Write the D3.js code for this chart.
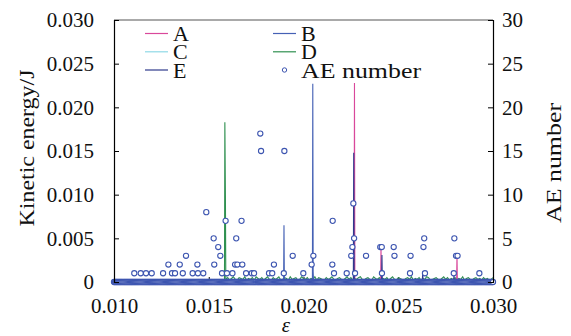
<!DOCTYPE html>
<html>
<head>
<meta charset="utf-8">
<script src="https://cdn.jsdelivr.net/npm/d3@7"></script>
</head>
<body style="margin:0">
<svg id="chart" width="571" height="336"></svg>
<script>
// kinetic energy series (eps, J)
const seriesA = [[0.0100, 0], [0.02267, 0], [0.02269, 0.0228], [0.02271, 0], [0.02407, 0], [0.02409, 0.0041], [0.02411, 0],
  [0.02808, 0], [0.02810, 0.0032], [0.02812, 0], [0.0300, 0]];
const seriesB = [[0.0100, 0], [0.01895, 0], [0.01897, 0.0065], [0.01899, 0], [0.02047, 0], [0.02049, 0.0227], [0.02051, 0.0012],
  [0.02053, 0], [0.0300, 0]];
const seriesC = [[0.0100, 0], [0.0300, 0]];
const seriesE = [[0.0100, 0], [0.02263, 0], [0.02265, 0.0148], [0.02267, 0.0010], [0.02269, 0], [0.02412, 0], [0.02414, 0.0031],
  [0.02416, 0], [0.02627, 0], [0.02629, 0.0012], [0.02631, 0], [0.02792, 0], [0.02794, 0.0007], [0.02796, 0], [0.0300, 0]];
const seriesDSpike = [[0.0100, 0], [0.01583, 0], [0.01585, 0.0183], [0.01588, 0.0096], [0.01590, 0.0004]];
// D background noise from 0.0159 to 0.0300, step 0.0001, in units of 1e-4 J
const dNoiseStart = 0.0159, dNoiseStep = 0.0001;
const dNoise = [3,5,2,4,6,3,2,5,4,3,6,2,4,3,5,2,6,4,3,5,
  2,4,6,3,2,5,3,4,6,2,3,5,4,2,6,3,4,5,2,3,
  6,4,3,5,2,4,3,6,2,5,4,3,2,5,3,4,6,3,2,4,
  5,3,2,4,6,3,5,2,4,3,5,6,3,2,4,5,3,2,6,4,
  3,5,2,4,3,5,2,4,6,3,2,5,4,3,2,4,5,3,6,2,
  4,3,5,2,4,3,6,5,2,3,4,5,3,2,4,6,3,5,2,4,
  3,5,2,4,3,6,2,4,5,3,2,4,5,3,4,2,5,3,4,2,
  3,5];

// AE counts (eps, number) for non-zero events; all other samples are 0
const aeEvents = [
  [0.01107, 1], [0.01141, 1], [0.01169, 1], [0.01199, 1], [0.01259, 1], [0.01306, 1], [0.01322, 1], [0.01363, 1],
  [0.01415, 1], [0.01443, 1], [0.01471, 1], [0.01570, 1], [0.01596, 1], [0.01625, 1], [0.01697, 1], [0.01727, 1],
  [0.01739, 1], [0.01818, 1], [0.01835, 1], [0.01896, 1], [0.01999, 1], [0.02161, 1], [0.02228, 1], [0.02272, 1],
  [0.02414, 1], [0.02562, 1], [0.02641, 1], [0.02793, 1], [0.02928, 1],
  [0.01287, 2], [0.01347, 2], [0.01440, 2], [0.01529, 2], [0.01639, 2], [0.01651, 2], [0.01677, 2], [0.01844, 2],
  [0.02043, 2], [0.02152, 2],
  [0.01380, 3], [0.01561, 3], [0.01943, 3], [0.02052, 3], [0.02252, 3], [0.02330, 3], [0.02480, 3], [0.02565, 3],
  [0.02805, 3], [0.02813, 3],
  [0.01550, 4], [0.02258, 4], [0.02405, 4], [0.02413, 4], [0.02476, 4], [0.02633, 4],
  [0.01526, 5], [0.01645, 5], [0.02267, 5], [0.02637, 5], [0.02796, 5],
  [0.01589, 7], [0.01673, 7], [0.02154, 7],
  [0.01487, 8], [0.02263, 9], [0.01776, 15], [0.01899, 15], [0.01772, 17]
];
const aeZeroStart = 0.0100, aeZeroEnd = 0.0300, aeZeroStep = 0.00005;

const keTicks = [0, 0.005, 0.010, 0.015, 0.020, 0.025, 0.030];
const keTickLabels = ['0', '0.005', '0.010', '0.015', '0.020', '0.025', '0.030'];
const aeTicks = [0, 5, 10, 15, 20, 25, 30];
const epsTicks = [0.010, 0.015, 0.020, 0.025, 0.030];

const legendItems = [
  { name: 'A', color: '#d9489b' },
  { name: 'B', color: '#4561b5' },
  { name: 'C', color: '#8fd8e6' },
  { name: 'D', color: '#2f9050' },
  { name: 'E', color: '#2e3a8c' }
];

const FONT = '"Liberation Serif", "Times New Roman"';
const W = 571, H = 336;
const margin = { top: 20, right: 78, bottom: 54, left: 114 };
const width = W - margin.left - margin.right;
const height = H - margin.top - margin.bottom;

const svg = d3.select('#chart');
const chart = svg.append('g').attr('transform', `translate(${margin.left},${margin.top})`);

const xScale = d3.scaleLinear().domain([0.010, 0.030]).range([0, width]);
const keScale = d3.scaleLinear().domain([0, 0.030]).range([height, 0]);
const aeScale = d3.scaleLinear().domain([0, 30]).range([height, 0]);

// lines
const line = d3.line().x(d => xScale(d[0])).y(d => keScale(d[1]));
const seriesD = seriesDSpike.concat(dNoise.map((v, i) => [dNoiseStart + i * dNoiseStep, v * 1e-4]));
const lineData = [
  { d: seriesC, color: legendItems[2].color },
  { d: seriesD, color: legendItems[3].color },
  { d: seriesA, color: legendItems[0].color },
  { d: seriesB, color: legendItems[1].color },
  { d: seriesE, color: legendItems[4].color }
];
chart.selectAll('.ke-line')
  .data(lineData)
  .join('path')
  .attr('class', 'ke-line')
  .attr('fill', 'none')
  .attr('stroke', d => d.color)
  .attr('stroke-width', 1.1)
  .attr('d', d => line(d.d));

// AE circles
const aeZeros = d3.range(aeZeroStart, aeZeroEnd + 1e-7, aeZeroStep).map(e => [e, 0]);
chart.selectAll('.ae')
  .data(aeZeros.concat(aeEvents))
  .join('circle')
  .attr('class', 'ae')
  .attr('cx', d => xScale(d[0]))
  .attr('cy', d => aeScale(d[1]))
  .attr('r', 2.6)
  .attr('fill', '#fff')
  .attr('stroke', '#3d55b0')
  .attr('stroke-width', 1.1);

// frame
chart.append('line').attr('x1', 0).attr('x2', width).attr('y1', 0).attr('y2', 0)
  .attr('stroke', '#555').attr('stroke-width', 1);

// axes (ticks pointing inward)
const leftAxis = d3.axisLeft(keScale).tickValues(keTicks).tickSize(-5).tickPadding(20)
  .tickFormat((d, i) => keTickLabels[i]);
const rightAxis = d3.axisRight(aeScale).tickValues(aeTicks).tickSize(-5).tickPadding(9);
const bottomAxis = d3.axisBottom(xScale).tickValues(epsTicks).tickSize(-5).tickPadding(16)
  .tickFormat(d3.format('.3f'));

function styleAxis(g) {
  g.attr('font-family', null).attr('font-size', null);
  g.select('.domain').attr('stroke', '#000').attr('stroke-width', 1.2);
  g.selectAll('.tick line').attr('stroke', '#000');
  g.selectAll('.tick text').attr('fill', '#111')
    .style('font-family', FONT).style('font-size', '21px');
}
chart.append('g').attr('transform', `translate(0,${height})`).call(bottomAxis)
  .call(styleAxis).call(g => g.select('.domain').remove()).lower();
chart.append('g').call(leftAxis).call(styleAxis);
chart.append('g').attr('transform', `translate(${width},0)`).call(rightAxis).call(styleAxis);

// axis titles
svg.append('text')
  .attr('transform', 'translate(34,148) rotate(-90)')
  .attr('text-anchor', 'middle').attr('fill', '#111')
  .style('font-family', FONT).style('font-size', '22px')
  .attr('textLength', 157).attr('lengthAdjust', 'spacingAndGlyphs')
  .text('Kinetic energy/J');
svg.append('text')
  .attr('transform', 'translate(561,163) rotate(-90)')
  .attr('text-anchor', 'middle').attr('fill', '#111')
  .style('font-family', FONT).style('font-size', '22px')
  .attr('textLength', 120).attr('lengthAdjust', 'spacingAndGlyphs')
  .text('AE number');
svg.append('text')
  .attr('x', 286).attr('y', 332)
  .attr('text-anchor', 'middle').attr('fill', '#111')
  .style('font-family', FONT).style('font-size', '21px').style('font-style', 'italic')
  .text('ε');

// legend
const legend = svg.append('g');
const legendRows = [
  { item: legendItems[0], col: 0, row: 0 },
  { item: legendItems[1], col: 1, row: 0 },
  { item: legendItems[2], col: 0, row: 1 },
  { item: legendItems[3], col: 1, row: 1 },
  { item: legendItems[4], col: 0, row: 2 }
];
const colX = [145, 273], rowY = [33.5, 51.8, 70];
legendRows.forEach(r => {
  const x0 = colX[r.col], y0 = rowY[r.row];
  legend.append('line').attr('x1', x0).attr('x2', x0 + 23).attr('y1', y0).attr('y2', y0)
    .attr('stroke', r.item.color).attr('stroke-width', 1.2);
  legend.append('text').attr('x', x0 + 28).attr('y', y0 + 7.5).attr('fill', '#111')
    .style('font-family', FONT).style('font-size', '22px').text(r.item.name);
});
legend.append('circle').attr('cx', colX[1] + 11.5).attr('cy', rowY[2]).attr('r', 2.2)
  .attr('fill', '#fff').attr('stroke', '#3d55b0').attr('stroke-width', 1);
legend.append('text').attr('x', colX[1] + 28).attr('y', rowY[2] + 7.5).attr('fill', '#111')
  .style('font-family', FONT).style('font-size', '22px')
  .attr('textLength', 120).attr('lengthAdjust', 'spacingAndGlyphs').text('AE number');
</script>
</body>
</html>
